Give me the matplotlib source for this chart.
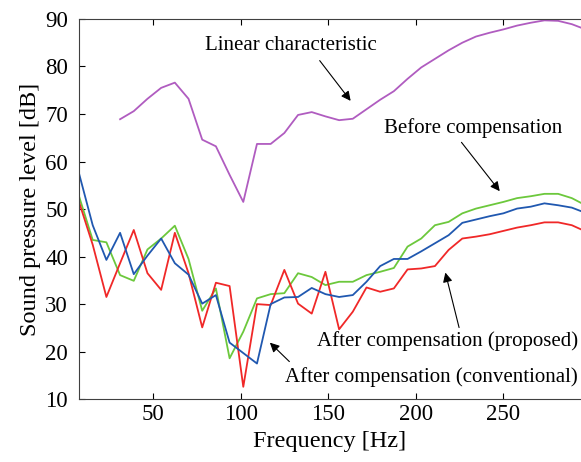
import matplotlib
matplotlib.use("Agg")
import matplotlib.pyplot as plt

plt.rcParams['font.family'] = ['Liberation Serif', 'DejaVu Serif']

# frequency bins [Hz]
freq = [7.8125, 15.625, 23.4375, 31.25, 39.0625, 46.875, 54.6875, 62.5,
        70.3125, 78.125, 85.9375, 93.75, 101.5625, 109.375, 117.1875, 125.0,
        132.8125, 140.625, 148.4375, 156.25, 164.0625, 171.875, 179.6875, 187.5,
        195.3125, 203.125, 210.9375, 218.75, 226.5625, 234.375, 242.1875, 250.0,
        257.8125, 265.625, 273.4375, 281.25, 289.0625, 296.875]

# sound pressure level [dB]
before = [52.7, 43.5, 43.0, 36.1, 34.9, 41.5, 43.8, 46.5, 39.5, 28.6, 33.3, 18.6,
          24.2, 31.2, 32.1, 32.3, 36.5, 35.7, 34.0, 34.7, 34.7, 36.1, 36.8, 37.6,
          42.1, 43.8, 46.6, 47.3, 49.1, 50.1, 50.8, 51.5, 52.3, 52.7, 53.2, 53.2,
          52.3, 50.8]
conventional = [57.5, 46.6, 39.3, 45.0, 36.3, 40.2, 43.8, 38.6, 36.2, 30.1, 31.9, 21.9,
                19.7, 17.5, 30.0, 31.4, 31.5, 33.4, 32.1, 31.5, 31.9, 34.7, 38.0, 39.5,
                39.5, 41.1, 42.8, 44.5, 47.1, 47.8, 48.5, 49.1, 50.1, 50.5, 51.2, 50.8,
                50.3, 49.2]
proposed = [51.5, 42.5, 31.5, 38.6, 45.6, 36.5, 33.0, 45.0, 36.5, 25.1, 34.5, 33.8,
            12.6, 30.0, 29.8, 37.2, 30.1, 28.0, 36.8, 24.7, 28.4, 33.5, 32.6, 33.3,
            37.3, 37.5, 38.0, 41.4, 43.8, 44.2, 44.7, 45.4, 46.1, 46.6, 47.2, 47.2,
            46.6, 45.3]
# linear characteristic starts at the 4th bin
linear = [68.9, 70.6, 73.2, 75.5, 76.6, 73.2, 64.6, 63.2, 57.2, 51.5, 63.7, 63.7,
          66.0, 69.8, 70.4, 69.5, 68.7, 69.0, 71.0, 73.0, 74.8, 77.4, 79.8, 81.6,
          83.4, 85.0, 86.3, 87.1, 87.8, 88.6, 89.2, 89.7, 89.6, 88.9, 87.8]

fig = plt.figure(figsize=(5.81, 4.62), dpi=100)
ax = fig.add_axes([0.136, 0.136, 0.864, 0.823])

ax.plot(freq[3:], linear, color='#b05cc0', lw=1.3)
ax.plot(freq, before, color='#6cc83c', lw=1.3)
ax.plot(freq, proposed, color='#f02828', lw=1.3)
ax.plot(freq, conventional, color='#2058b0', lw=1.3)

ax.set_xlim(7.8125, 294.3)
ax.set_ylim(10, 90)
ax.set_xticks([50, 100, 150, 200, 250])
ax.set_yticks(range(10, 91, 10))
ax.tick_params(direction='in', top=True, right=False, labelsize=16.5, length=4)
ax.tick_params(axis='y', pad=8)
ax.spines['right'].set_visible(False)
for s in ['left', 'top', 'bottom']:
    ax.spines[s].set_color('#404040')

ax.set_xlabel('Frequency [Hz]', fontsize=17.5, labelpad=4)
ax.set_ylabel('Sound pressure level [dB]', fontsize=17.5, labelpad=3)

arrow = dict(arrowstyle='-|>', color='black', lw=0.8, mutation_scale=14)
ax.text(128.6, 84.4, 'Linear characteristic', fontsize=15, ha='center', va='center')
ax.annotate('', xy=(163.8, 72.3), xytext=(144.2, 81.7), arrowprops=arrow)

ax.text(233, 67.1, 'Before compensation', fontsize=15, ha='center', va='center')
ax.annotate('', xy=(248.9, 53.3), xytext=(225.1, 64.5), arrowprops=arrow)

ax.text(292.4, 22.2, 'After compensation (proposed)', fontsize=15, ha='right', va='center')
ax.annotate('', xy=(216.5, 37.2), xytext=(225.1, 24.5), arrowprops=arrow)

ax.text(292.4, 14.6, 'After compensation (conventional)', fontsize=15, ha='right', va='center')
ax.annotate('', xy=(115.6, 22.3), xytext=(129, 17.5), arrowprops=arrow)

fig.savefig('out.png', dpi=100)
